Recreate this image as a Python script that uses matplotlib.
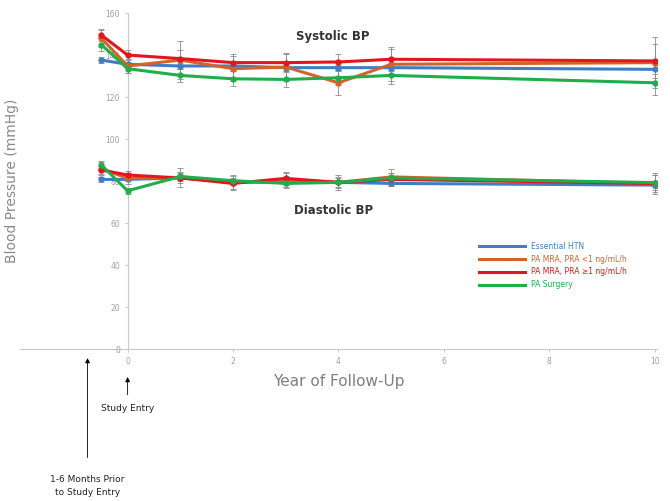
import numpy as np
import matplotlib
matplotlib.use("Agg")
import matplotlib.pyplot as plt
from matplotlib.lines import Line2D

# time points: pre-entry visit, then years of follow-up
years = [-0.5, 0, 1, 2, 3, 4, 5, 10]

labels = ["Essential HTN", "PA MRA, PRA <1 ng/mL/h",
          "PA MRA, PRA \u22651 ng/mL/h", "PA Surgery"]
colors = ["#3F7EC4", "#D2642A", "#E3151E", "#1FAE4A"]

sys_htn = [137.6, 135.6, 134.8, 134.8, 134.0, 134.0, 134.0, 133.2]
sys_low = [148.0, 134.8, 137.6, 133.5, 134.3, 126.8, 135.6, 136.4]
sys_high = [149.5, 140.0, 138.3, 136.4, 136.4, 136.7, 138.0, 137.2]
sys_surg = [145.0, 133.5, 130.3, 128.7, 128.4, 129.2, 130.3, 126.8]

dia_htn = [80.8, 80.8, 81.5, 79.6, 79.3, 79.4, 78.9, 78.1]
dia_low = [86.0, 81.3, 81.8, 79.2, 80.6, 79.4, 82.0, 78.9]
dia_high = [85.3, 82.9, 81.5, 78.9, 81.3, 79.4, 80.8, 78.9]
dia_surg = [87.7, 75.4, 82.2, 80.2, 78.9, 79.4, 81.5, 79.3]

sys_err_htn = [1.5, 1.0, 1.5, 1.5, 1.5, 1.5, 1.5, 2.0]
sys_err_low = [4.0, 3.5, 9.0, 6.0, 6.5, 6.0, 8.0, 12.0]
sys_err_high = [3.0, 2.5, 4.0, 4.0, 4.0, 4.0, 5.0, 8.0]
sys_err_surg = [3.0, 2.0, 3.0, 3.5, 3.5, 3.5, 4.0, 6.0]

dia_err_htn = [1.0, 0.8, 1.0, 1.0, 1.0, 1.0, 1.0, 1.5]
dia_err_low = [3.0, 2.5, 4.5, 3.5, 3.5, 3.5, 4.0, 5.0]
dia_err_high = [2.0, 2.0, 2.5, 2.5, 2.5, 2.5, 3.0, 4.0]
dia_err_surg = [2.0, 1.5, 2.0, 2.0, 2.0, 2.0, 2.5, 3.5]

systolic = [sys_htn, sys_low, sys_high, sys_surg]
diastolic = [dia_htn, dia_low, dia_high, dia_surg]
sys_errs = [sys_err_htn, sys_err_low, sys_err_high, sys_err_surg]
dia_errs = [dia_err_htn, dia_err_low, dia_err_high, dia_err_surg]

fig = plt.figure(figsize=(6.7, 5.01), dpi=100)
ax = fig.add_axes([0.03, 0.303, 0.951, 0.671])

for i in range(4):
    for vals, errs in [(systolic[i], sys_errs[i]), (diastolic[i], dia_errs[i])]:
        ax.errorbar(years, vals, yerr=errs, color=colors[i], lw=2.2,
                    marker="o", ms=3.5, elinewidth=0.6, capsize=2,
                    ecolor="#8C8C8C", capthick=0.6)

ax.set_xlim(-2.04, 10.05)
ax.set_ylim(0, 160)
ax.set_xticks([0, 2, 4, 6, 8, 10])
ax.set_yticks([0, 20, 40, 60, 80, 100, 120, 140, 160])
ax.spines["left"].set_position(("data", 0))
ax.spines["top"].set_visible(False)
ax.spines["right"].set_visible(False)
for s in ["left", "bottom"]:
    ax.spines[s].set_color("#C8C8C8")
    ax.spines[s].set_zorder(0)
ax.tick_params(colors="#C8C8C8", labelcolor="#A0A0A0", labelsize=5.5, length=2)
ax.set_xlabel("Year of Follow-Up", fontsize=11, color="#7F7F7F", labelpad=6)
fig.text(0.018, 0.64, "Blood Pressure (mmHg)", rotation=90, fontsize=10,
         color="#8A8A8A", ha="center", va="center")

ax.text(3.9, 148.6, "Systolic BP", fontsize=8.5, fontweight="bold",
        color="#333333", ha="center", va="center")
ax.text(3.9, 66.2, "Diastolic BP", fontsize=8.5, fontweight="bold",
        color="#333333", ha="center", va="center")

handles = [Line2D([], [], color=c, lw=2.2) for c in colors]
leg = ax.legend(handles, labels, loc="upper left", bbox_to_anchor=(0.71, 0.34),
                frameon=False, fontsize=5.5, handlelength=6, labelspacing=0.5)
for txt, c in zip(leg.get_texts(), colors):
    txt.set_color(c)

# arrows below the axis
ax.annotate("", xy=(0, -11.9), xytext=(0, -23.0), annotation_clip=False,
            arrowprops=dict(arrowstyle="-|>", color="black", lw=0.6,
                            mutation_scale=7))
ax.text(0, -28, "Study Entry", fontsize=6.5, color="#222222", ha="center",
        va="center", clip_on=False)
ax.annotate("", xy=(-0.76, -2.9), xytext=(-0.76, -52.9), annotation_clip=False,
            arrowprops=dict(arrowstyle="-|>", color="black", lw=0.6,
                            mutation_scale=7))
ax.text(-0.76, -65, "1-6 Months Prior\nto Study Entry", fontsize=6.5,
        color="#222222", ha="center", va="center", clip_on=False,
        linespacing=1.5)

fig.savefig("out.png", dpi=100)
